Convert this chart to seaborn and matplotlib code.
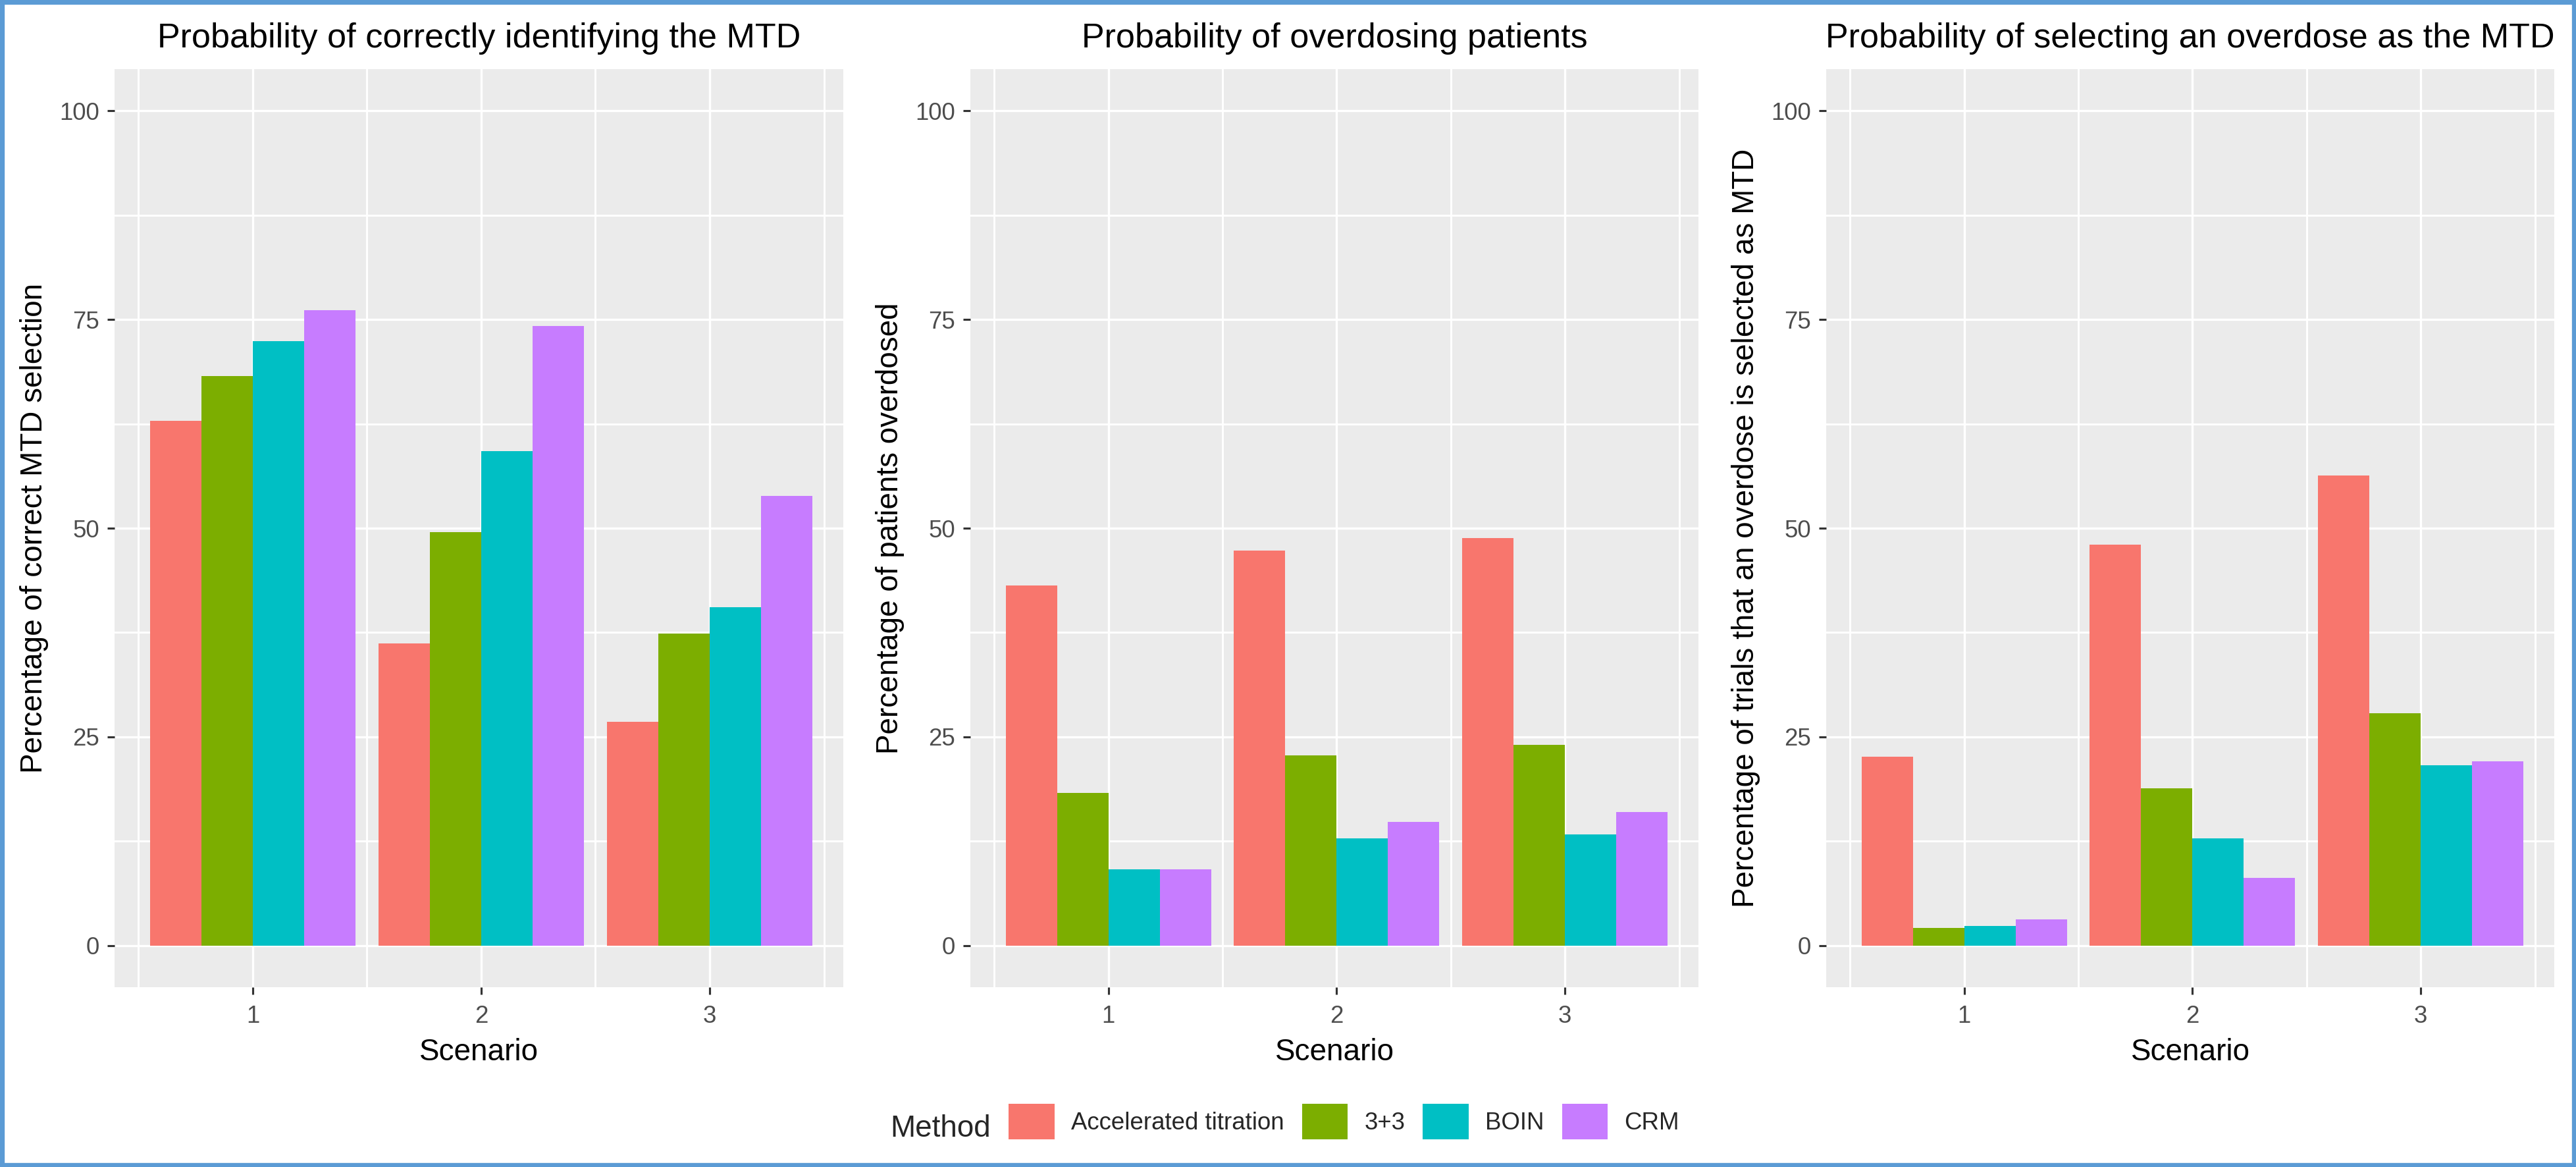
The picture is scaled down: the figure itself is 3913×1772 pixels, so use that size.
import numpy as np
import pandas as pd
import matplotlib
matplotlib.use("Agg")
import matplotlib.pyplot as plt
from matplotlib.patches import Patch, Rectangle
import seaborn as sns

# ---------------- data ----------------
scenarios = ["1", "2", "3"]
methods = ["Accelerated titration", "3+3", "BOIN", "CRM"]
method_colors = ["#F8766D", "#7CAE00", "#00BFC4", "#C77CFF"]

# Panel 1: probability of correctly identifying the MTD
correct_accel = [62.9, 36.2, 26.8]
correct_33 = [68.2, 49.5, 37.4]
correct_boin = [72.4, 59.2, 40.5]
correct_crm = [76.1, 74.2, 53.9]

# Panel 2: probability of overdosing patients
overdosed_accel = [43.1, 47.3, 48.8]
overdosed_33 = [18.3, 22.8, 24.0]
overdosed_boin = [9.1, 12.8, 13.3]
overdosed_crm = [9.1, 14.8, 16.0]

# Panel 3: probability of selecting an overdose as the MTD
odselect_accel = [22.6, 48.0, 56.3]
odselect_33 = [2.1, 18.8, 27.8]
odselect_boin = [2.3, 12.8, 21.6]
odselect_crm = [3.1, 8.1, 22.1]

titles = [
    "Probability of correctly identifying the MTD",
    "Probability of overdosing patients",
    "Probability of selecting an overdose as the MTD",
]
ylabels = [
    "Percentage of correct MTD selection",
    "Percentage of patients overdosed",
    "Percentage of trials that an overdose is selected as MTD",
]
xlabel = "Scenario"
legend_title = "Method"
yticks = [0, 25, 50, 75, 100]


def make_df(accel, p33, boin, crm):
    rows = []
    for m, vals in zip(methods, [accel, p33, boin, crm]):
        for s, v in zip(scenarios, vals):
            rows.append({"Scenario": s, "Method": m, "value": v})
    return pd.DataFrame(rows)


panels = [
    make_df(correct_accel, correct_33, correct_boin, correct_crm),
    make_df(overdosed_accel, overdosed_33, overdosed_boin, overdosed_crm),
    make_df(odselect_accel, odselect_33, odselect_boin, odselect_crm),
]

# ---------------- style ----------------
sns.set_theme(style="darkgrid")
plt.rcParams["font.family"] = ["Liberation Sans", "DejaVu Sans"]

W, H = 3913, 1772
DPI = 300
fig = plt.figure(figsize=((W + 0.01) / DPI, (H + 0.01) / DPI), dpi=DPI)
fig.patch.set_facecolor("white")

panel_px = [(174, 1281), (1474, 2580), (2774, 3880)]
top_px, bot_px = 105, 1499

for (l, r), df, title, ylab in zip(panel_px, panels, titles, ylabels):
    ax = fig.add_axes([l / W, 1 - bot_px / H, (r - l) / W, (bot_px - top_px) / H])
    sns.barplot(
        data=df, x="Scenario", y="value", hue="Method",
        order=scenarios, hue_order=methods, palette=method_colors,
        width=0.9, saturation=1, errorbar=None, linewidth=0,
        legend=False, ax=ax,
    )
    ax.set_facecolor("#EBEBEB")
    ax.set_xlim(-0.605, 2.585)
    ax.set_ylim(-5, 105)
    ax.set_xticks([0, 1, 2])
    ax.set_xticklabels(scenarios)
    ax.set_xticks([-0.5, 0.5, 1.5, 2.5], minor=True)
    ax.set_yticks(yticks)
    ax.set_yticklabels([str(t) for t in yticks])
    ax.set_yticks([12.5, 37.5, 62.5, 87.5], minor=True)
    ax.grid(True, which="major", color="white", linewidth=0.8)
    ax.grid(True, which="minor", color="white", linewidth=0.7)
    ax.set_axisbelow(True)
    for sp in ax.spines.values():
        sp.set_visible(False)
    ax.tick_params(which="major", length=2.6, width=0.75, color="#333333",
                   labelsize=8.8, labelcolor="#4D4D4D", direction="out",
                   bottom=True, left=True)
    ax.tick_params(axis="x", which="major", pad=3.8)
    ax.tick_params(axis="y", which="major", pad=3.0)
    ax.tick_params(which="minor", length=0, bottom=False, left=False)
    ax.set_xlabel(xlabel, fontsize=11, color="black")
    ax.xaxis.set_label_coords(0.5, -0.0555)
    ax.set_ylabel(ylab, fontsize=11, color="black")
    ax.yaxis.set_label_coords(-0.09, 0.5)
    ax.set_title(title, fontsize=12.5, color="black", pad=7.9)

# legend
handles = [Patch(facecolor=c, edgecolor="none") for c in method_colors]
fig.legend(
    handles, methods, ncol=4, loc="center",
    bbox_to_anchor=(2041.5 / W, 1 - 1703 / H),
    frameon=False, fontsize=8.8, handlelength=1.9, handleheight=1.85,
    handletextpad=0.68, columnspacing=0.74, borderpad=0, borderaxespad=0,
)
fig.text(1352 / W, 1 - 1726 / H, legend_title, fontsize=11, va="baseline", ha="left")

# blue border around the figure
fig.patches.append(Rectangle((0, 0), 1, 1, transform=fig.transFigure,
                             fill=False, edgecolor="#5B9BD5", linewidth=3.2))

fig.savefig("out.png", dpi=DPI, facecolor="white")
